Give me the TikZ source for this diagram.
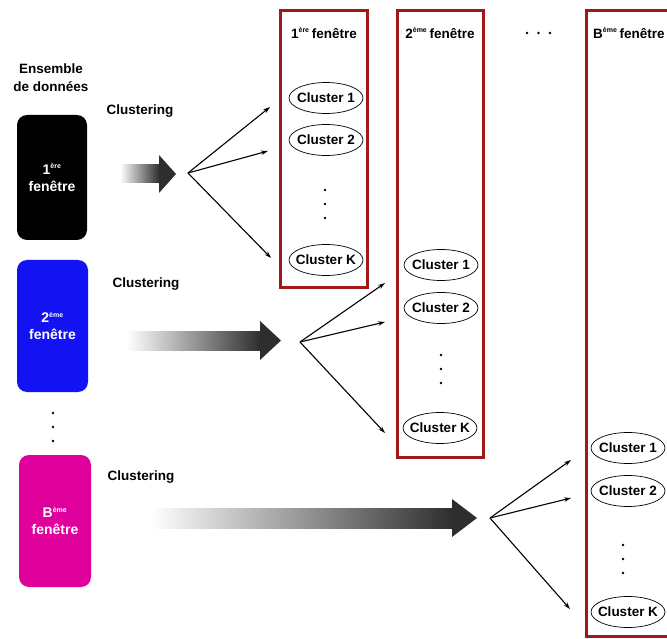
\documentclass[tikz,border=0pt]{standalone}
\usepackage{fontspec}
\setmainfont{Liberation Sans}
\usetikzlibrary{shapes.geometric,arrows.meta}
\definecolor{boxred}{HTML}{A11818}
\definecolor{winblue}{HTML}{1212F2}
\definecolor{winmag}{HTML}{E0009C}
\definecolor{arrdark}{HTML}{2E2E2E}
\begin{document}
\begin{tikzpicture}[x=1pt,y=-1pt,
  lbl/.style={font=\fontsize{13.5}{15}\selectfont\bfseries, align=center, inner sep=0pt},
  win/.style={rounded corners=10pt, text=white, inner sep=0pt, align=center,
    font=\fontsize{14}{17}\selectfont\bfseries},
  clus/.style={ellipse, draw, line width=0.7pt, minimum width=74pt, minimum height=31pt,
    inner xsep=-6pt, inner ysep=0pt, font=\fontsize{13.5}{15}\selectfont\bfseries},
  frame/.style={draw=boxred, line width=3pt, inner sep=0pt},
  fan/.style={-{Stealth[length=7pt,width=4.5pt]}, line width=1.1pt},
  dot/.style={circle, fill=black, inner sep=0pt, minimum size=2.6pt}]
\useasboundingbox (0,0) rectangle (667,639);

% data set label
\node[lbl] (ens) at (51,78) {Ensemble\\[3pt]de données};

% windows
\node[win, fill=black, minimum width=70pt, minimum height=125pt] (w1) at (52,177.5)
  {1\textsuperscript{\fontsize{7}{7}\selectfont ère}\\fenêtre};
\node[win, fill=winblue, minimum width=71pt, minimum height=132pt] (w2) at (52.5,326)
  {2\textsuperscript{\fontsize{7}{7}\selectfont ème}\\fenêtre};
\node[win, fill=winmag, minimum width=72pt, minimum height=132pt] (w3) at (55,521)
  {B\textsuperscript{\fontsize{7}{7}\selectfont ème}\\fenêtre};
\node[dot] (vd1) at (53,413) {};
\node[dot] (vd2) at (53,427) {};
\node[dot] (vd3) at (53,441) {};

% clustering labels
\node[lbl] (c1) at (140,111) {Clustering};
\node[lbl] (c2) at (146,284) {Clustering};
\node[lbl] (c3) at (141,477) {Clustering};

% gradient arrows
\shade[left color=white, right color=arrdark] (120,165) rectangle (159.5,183);
\fill[arrdark] (159,155) -- (176,174) -- (159,193) -- cycle;
\shade[left color=white, right color=arrdark] (127,331) rectangle (260.5,350);
\fill[arrdark] (260,321) -- (281,340.5) -- (260,360) -- cycle;
\shade[left color=white, right color=arrdark] (150,508) rectangle (452.5,528);
\fill[arrdark] (452,499) -- (477,518) -- (452,537) -- cycle;

% frames
\node[frame, minimum width=87pt, minimum height=277pt] (f1) at (323.5,149.5) {};
\node[frame, minimum width=86pt, minimum height=446pt] (f2) at (440.5,234) {};
\node[frame, minimum width=90pt, minimum height=625pt] (f3) at (631,323.5) {};

% frame titles
\node[lbl] (t1) at (324,33) {1\textsuperscript{\fontsize{7}{7}\selectfont ère}\,fenêtre};
\node[lbl] (t2) at (440,33) {2\textsuperscript{\fontsize{7}{7}\selectfont ème}\,fenêtre};
\node[lbl, anchor=west] (t3) at (593,33) {B\textsuperscript{\fontsize{7}{7}\selectfont ème}\,fenêtre};
\node[dot] (hd1) at (527,33) {};
\node[dot] (hd2) at (538.5,33) {};
\node[dot] (hd3) at (550,33) {};

% clusters, window 1
\node[clus] (a1) at (326,98) {Cluster 1};
\node[clus] (a2) at (326,140) {Cluster 2};
\node[dot] (ad1) at (325,190) {};
\node[dot] (ad2) at (325,204) {};
\node[dot] (ad3) at (325,218) {};
\node[clus] (aK) at (326,260) {Cluster K};

% clusters, window 2
\node[clus] (b1) at (441,265) {Cluster 1};
\node[clus] (b2) at (441,308) {Cluster 2};
\node[dot] (bd1) at (441,355) {};
\node[dot] (bd2) at (441,369) {};
\node[dot] (bd3) at (441,383) {};
\node[clus] (bK) at (440,428) {Cluster K};

% clusters, window B
\node[clus] (d1) at (628,448) {Cluster 1};
\node[clus] (d2) at (628,491) {Cluster 2};
\node[dot] (dd1) at (623,545) {};
\node[dot] (dd2) at (623,559) {};
\node[dot] (dd3) at (623,573) {};
\node[clus] (dK) at (628,612) {Cluster K};

% fans
\coordinate (o1) at (188,173);
\coordinate (e11) at (270,107);
\coordinate (e12) at (268,151);
\coordinate (e13) at (271,258);
\draw[fan] (o1) -- (e11);
\draw[fan] (o1) -- (e12);
\draw[fan] (o1) -- (e13);

\coordinate (o2) at (300,342);
\coordinate (e21) at (385,283);
\coordinate (e22) at (385,322);
\coordinate (e23) at (385,433);
\draw[fan] (o2) -- (e21);
\draw[fan] (o2) -- (e22);
\draw[fan] (o2) -- (e23);

\coordinate (o3) at (490,518);
\coordinate (e31) at (571,460);
\coordinate (e32) at (571,498);
\coordinate (e33) at (570,609);
\draw[fan] (o3) -- (e31);
\draw[fan] (o3) -- (e32);
\draw[fan] (o3) -- (e33);
\end{tikzpicture}
\end{document}
